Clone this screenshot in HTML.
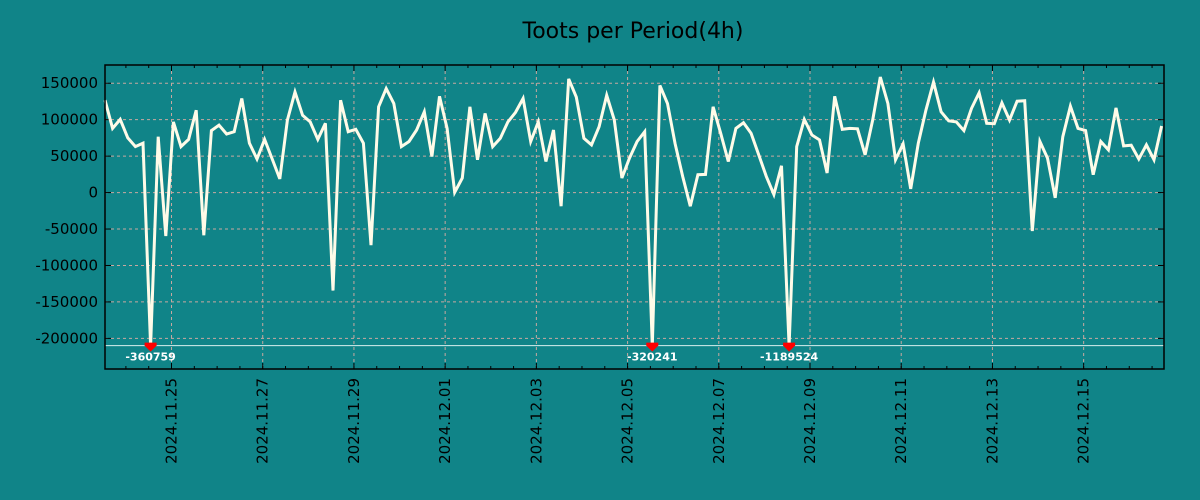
<!DOCTYPE html>
<html><head><meta charset="utf-8">
<style>
html,body{margin:0;padding:0;background:#108488;}
svg{display:block;font-family:"DejaVu Sans","Liberation Sans",sans-serif;}
</style></head>
<body>
<svg id="chart" width="1200" height="500">
<rect x="0" y="0" width="1200" height="500" fill="#108488"/>
<text x="633" y="38" font-size="22" text-anchor="middle" fill="#000">Toots per Period(4h)</text>
<g id="grid"></g>
<g id="yaxis"></g>
<g id="xaxis"></g>
<g id="series"></g>
<rect x="105" y="65" width="1059" height="304" fill="none" stroke="#000" stroke-width="1.5"/>
</svg>
<script>
const startTime = Date.UTC(2024,10,23,13,0);
const periodHours = 4;
const values = [126700,88000,100400,75000,63000,67700,-360759,76700,-59500,97000,
63000,73000,113000,-58600,85000,92600,80400,83500,129000,67700,
46000,73000,46000,18700,99500,138000,106000,97000,73000,95000,
-134500,126700,83500,86800,67700,-72200,117600,142600,122200,63000,
70000,85800,110800,49500,132000,88000,400,20000,117600,45000,
108600,63000,74500,97000,110000,129000,70000,97000,42600,85800,
-18700,156000,131000,74500,65400,90300,133500,99500,20000,47300,
70000,83500,-320241,147000,122200,67000,22000,-18700,24500,25000,
117600,81300,42600,88000,95800,81300,52000,22200,-2700,36800,
-1189524,63000,100400,79000,72200,26800,132000,86800,88000,87500,
51800,99500,158500,122200,45000,66800,5000,67700,113000,151600,
110800,98500,97000,85000,115400,136700,95000,94500,123000,99500,
125300,126000,-52700,70000,47300,-7200,76700,118500,88000,85000,
24500,70000,58600,116200,64000,65000,46000,65400,45000,91300];
const yTicks = [150000,100000,50000,0,-50000,-100000,-150000,-200000];
const xTickLabels = ["2024.11.25","2024.11.27","2024.11.29","2024.12.01","2024.12.03","2024.12.05","2024.12.07","2024.12.09","2024.12.11","2024.12.13","2024.12.15"];
const clipValue = -210000;

const NS="http://www.w3.org/2000/svg";
const L=105,R=1164,T=65,B=369;
const dayMs=86400000;
const xMin=startTime, xMax=startTime+23.22*dayMs;
const yMin=-242000, yMax=175000;
function X(t){return L+(t-xMin)/(xMax-xMin)*(R-L);}
function Y(v){return B-(v-yMin)/(yMax-yMin)*(B-T);}
function mk(tag,attrs,parent){const e=document.createElementNS(NS,tag);for(const k in attrs)e.setAttribute(k,attrs[k]);parent.appendChild(e);return e;}
const grid=document.getElementById('grid'),ya=document.getElementById('yaxis'),xa=document.getElementById('xaxis'),ser=document.getElementById('series');

yTicks.forEach(v=>{
  const y=Y(v);
  const g=mk('line',{x1:L,x2:R,y1:y,y2:y,stroke:'#c8a8a0','stroke-width':1,'stroke-dasharray':'3,3'},grid);
  
  
  mk('line',{x1:L,x2:L+6,y1:y,y2:y,stroke:'#000'},ya);
  mk('line',{x1:R-6,x2:R,y1:y,y2:y,stroke:'#000'},ya);
  const t=mk('text',{x:98,y:y+5,'font-size':15,'text-anchor':'end',fill:'#000'},ya);
  t.textContent=v;
  
  
});

for(let t=Date.UTC(2024,10,23,12);t<xMax;t+=dayMs/2){
  const x=X(t); if(x<L||x>R)continue;
  mk('line',{x1:x,x2:x,y1:B,y2:B-3,stroke:'#000'},xa);
  mk('line',{x1:x,x2:x,y1:T,y2:T+3,stroke:'#000'},xa);
}
xTickLabels.forEach(lbl=>{
  const p=lbl.split('.');
  const t=Date.UTC(+p[0],+p[1]-1,+p[2]);
  const x=X(t);
  const g=mk('line',{x1:x,x2:x,y1:T,y2:B,stroke:'#c8a8a0','stroke-width':1,'stroke-dasharray':'3,3'},grid);
  
  
  mk('line',{x1:x,x2:x,y1:B,y2:B-6,stroke:'#000'},xa);
  mk('line',{x1:x,x2:x,y1:T,y2:T+6,stroke:'#000'},xa);
  const tx=mk('text',{x:0,y:0,'font-size':15,'text-anchor':'end',fill:'#000',transform:`translate(${x+5},378) rotate(-90)`},xa);
  tx.textContent=lbl;
  
  
});

const cy=Y(clipValue);
const cl=mk('line',{x1:L,x2:R,y1:cy,y2:cy,stroke:'#d8f0ee','stroke-width':1},ser);



let d='';
values.forEach((v,i)=>{
  const x=X(startTime+i*periodHours*3600000);
  const y=Y(Math.max(v,clipValue));
  d+=(i?'L':'M')+x.toFixed(1)+','+y.toFixed(1);
});
const path=mk('path',{d:d,fill:'none',stroke:'#fffbe8','stroke-width':3,'stroke-linejoin':'miter'},ser);



values.forEach((v,i)=>{
  if(v>=clipValue)return;
  const x=X(startTime+i*periodHours*3600000);
  const m=mk('path',{d:`M${x-6},${cy-3}h12v3l-6,6l-6,-6z`,fill:'#ff0000'},ser);
  
  
  const t=mk('text',{x:x,y:cy+15,'font-size':11,'font-weight':'bold','text-anchor':'middle',fill:'#fff'},ser);
  t.textContent=v;
  
  
});
</script>
</body></html>
